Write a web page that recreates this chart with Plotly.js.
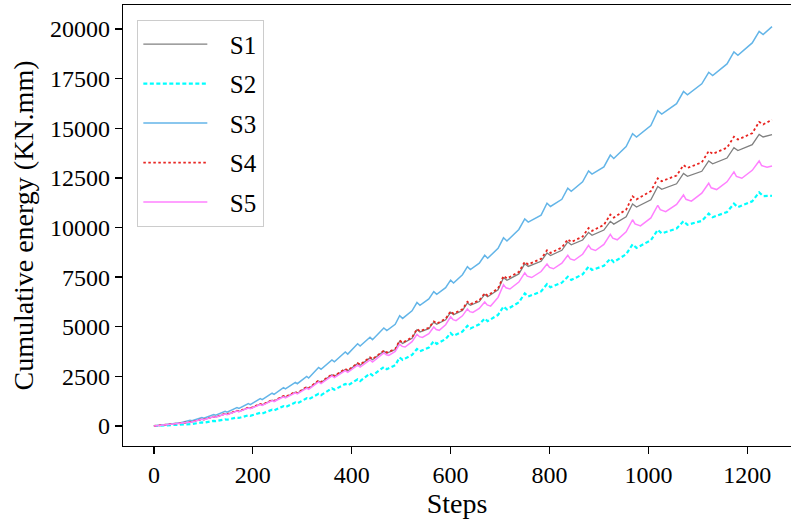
<!DOCTYPE html>
<html>
<head>
<meta charset="utf-8">
<script src="https://cdn.plot.ly/plotly-3.0.1.min.js"></script>
<style>html,body{margin:0;padding:0;background:#fff;}#chart{width:791px;height:520px;}</style>
</head>
<body>
<div id="chart"></div>
<script>
// Steps shared by S1-S4 (cusp, trough, knee points of each loading cycle)
const stepsA = [0,
26,30, 50,54, 73,77, 97,101, 121,125, 144,148, 168,172, 191,195, 215,219, 239,243, 262,266, 286,290, 309,313, 333,338, 360,365, 387,392, 412,417, 437,442,
465,471,488, 497,503,522, 532,538,556, 566,572,590, 600,606,624, 634,640,658, 669,675,696, 707,714,738, 750,757,783, 795,802,825, 837,844,867, 879,886,910, 923,930,955, 968,976,1005, 1019,1027,1057, 1071,1079,1108, 1122,1130,1159, 1173,1181,1210,
1224,1232, 1250];

// Steps for S5
const stepsS5 = [0,
26,30, 50,54, 73,77, 97,101, 121,125, 144,148, 168,172, 191,195, 215,219, 239,243, 262,266, 286,290, 309,313, 333,338, 360,365, 387,392, 412,417, 437,442,
465,470,475,488, 497,502,508,522, 532,537,543,556, 566,571,577,590, 600,605,611,624, 634,639,645,658, 669,674,681,696, 707,712,720,738, 750,755,764,783, 795,800,808,825, 837,842,850,867, 879,884,893,910, 923,928,937,955, 968,973,984,1005, 1019,1024,1035,1057, 1071,1076,1087,1108, 1122,1127,1138,1159, 1173,1178,1189,1210,
1224,1229,1240, 1250];

const S1 = [0,
80,70, 150,135, 220,205, 340,320, 470,445, 610,585, 760,730, 920,885, 1100,1060, 1300,1255, 1500,1450, 1700,1645, 1950,1890, 2260,2190, 2575,2500, 2850,2770, 3140,3060, 3430,3340,
3770,3670,3850, 4270,4160,4420, 4850,4740,4900, 5230,5120,5350, 5730,5610,5820, 6200,6080,6270, 6630,6510,6860, 7470,7340,7660, 8170,8040,8300, 8720,8590,8850, 9270,9130,9370, 9750,9610,9870, 10310,10170,10540, 11180,11030,11400, 12070,11920,12200, 12720,12580,12830, 13350,13210,13500, 14020,13880,14170,
14690,14560, 14680];

const S2 = [0,
30,25, 60,52, 110,98, 180,165, 260,242, 335,315, 430,405, 540,510, 665,630, 820,780, 1000,955, 1185,1135, 1400,1345, 1620,1555, 1900,1825, 2120,2040, 2350,2265, 2640,2545,
2970,2860,3060, 3450,3330,3580, 3880,3760,3950, 4270,4140,4380, 4680,4540,4760, 5050,4910,5120, 5420,5280,5600, 6020,5870,6230, 6680,6520,6780, 7150,6990,7220, 7520,7360,7640, 8030,7860,8070, 8430,8260,8650, 9150,8970,9360, 9880,9700,9950, 10320,10140,10330, 10700,10520,10780, 11200,11020,11320,
11770,11580, 11600];

const S3 = [0,
90,75, 180,160, 290,265, 420,390, 580,545, 740,700, 930,885, 1130,1080, 1380,1325, 1650,1590, 1930,1865, 2200,2130, 2500,2420, 2950,2860, 3330,3230, 3730,3620, 4140,4030, 4470,4350,
4940,4810,5120, 5560,5420,5800, 6220,6080,6400, 6770,6630,6970, 7350,7200,7620, 8030,7880,8200, 8600,8450,8950, 9480,9320,9900, 10430,10270,10620, 11220,11060,11420, 11980,11820,12300, 12850,12690,13050, 13650,13480,14080, 14730,14560,15140, 15880,15710,16240, 16850,16680,17240, 17820,17650,18240, 18850,18680,19300,
19880,19720, 20120];

const S4 = [0,
80,70, 150,135, 225,208, 345,325, 475,450, 620,593, 770,740, 930,895, 1110,1070, 1310,1265, 1515,1465, 1720,1665, 1970,1910, 2290,2220, 2600,2525, 2880,2800, 3170,3090, 3460,3370,
3800,3700,3880, 4310,4200,4460, 4890,4780,4950, 5270,5160,5400, 5780,5660,5880, 6260,6140,6330, 6690,6570,6930, 7560,7430,7760, 8270,8140,8420, 8850,8720,8990, 9410,9270,9540, 9970,9830,10130, 10650,10500,10900, 11570,11420,11830, 12480,12330,12620, 13140,13000,13280, 13850,13710,14020, 14570,14430,14750,
15320,15190, 15430];

const S5 = [0,
80,70, 148,133, 218,200, 335,315, 465,440, 600,572, 750,718, 905,868, 1080,1038, 1280,1232, 1470,1418, 1670,1612, 1910,1845, 2220,2140, 2520,2435, 2790,2700, 3060,2965, 3330,3225,
3680,3590,3560,3760, 4120,4010,3980,4250, 4620,4500,4460,4650, 4990,4860,4820,5100, 5500,5360,5310,5550, 5900,5760,5720,5920, 6250,6100,6040,6480, 7120,6960,6900,7250, 7720,7550,7480,7780, 8160,7990,7920,8200, 8600,8420,8350,8650, 9100,8920,8840,9150, 9650,9460,9380,9780, 10390,10180,10080,10480, 11120,10900,10800,11160, 11640,11420,11330,11730, 12230,12000,11910,12300, 12800,12570,12480,12880,
13350,13120,13040, 13100];

const seriesNames = ['S1', 'S2', 'S3', 'S4', 'S5'];
const xTickVals = [0, 200, 400, 600, 800, 1000, 1200];
const xTickText = ['0', '200', '400', '600', '800', '1000', '1200'];
const yTickVals = [0, 2500, 5000, 7500, 10000, 12500, 15000, 17500, 20000];
const yTickText = ['0', '2500', '5000', '7500', '10000', '12500', '15000', '17500', '20000'];

const FONT = 'Liberation Serif, Times New Roman, serif';
const PAD = '\u2002\u2009';

const styles = [
  {color: '#808080', width: 1.3},
  {color: '#00ffff', width: 2.2, dash: '4px,2.5px'},
  {color: '#63b5e8', width: 1.5},
  {color: '#e82420', width: 1.8, dash: '2.5px,2.5px'},
  {color: '#ff80ff', width: 1.5}
];
const xs = [stepsA, stepsA, stepsA, stepsA, stepsS5];
const ys = [S1, S2, S3, S4, S5];

const traces = seriesNames.map((n, i) => ({
  type: 'scatter', mode: 'lines',
  x: xs[i], y: ys[i],
  name: PAD + n, legendgroup: 'g' + i,
  line: styles[i]
}));

const layout = {
  width: 791, height: 520,
  margin: {l: 123, r: 0, t: 5, b: 74},
  paper_bgcolor: '#fff', plot_bgcolor: '#fff',
  font: {family: FONT, color: '#000', size: 24},
  showlegend: true,
  legend: {
    x: 0.021, y: 0.966, xanchor: 'left', yanchor: 'top',
    bgcolor: '#fff', bordercolor: '#cccccc', borderwidth: 1.3,
    font: {family: FONT, size: 25, color: '#000'},
    itemwidth: 64, tracegroupgap: 4
  },
  xaxis: {
    range: [-62.5, 1288.4],
    tickvals: xTickVals, ticktext: xTickText,
    ticks: 'outside', ticklen: 7, tickwidth: 1.3, tickcolor: '#000',
    showline: true, linecolor: '#000', linewidth: 1.3, mirror: true,
    showgrid: false, zeroline: false,
    tickfont: {family: FONT, size: 24, color: '#000'},
    title: {text: 'Steps', font: {family: FONT, size: 28, color: '#000'}, standoff: 4}
  },
  yaxis: {
    range: [-1008, 21209],
    tickvals: yTickVals, ticktext: yTickText,
    ticks: 'outside', ticklen: 7, tickwidth: 1.3, tickcolor: '#000',
    showline: true, linecolor: '#000', linewidth: 1.3, mirror: false,
    showgrid: false, zeroline: false,
    tickfont: {family: FONT, size: 24, color: '#000'},
    title: {text: 'Cumulative energy (KN.mm)', font: {family: FONT, size: 28, color: '#000'}, standoff: 8}
  }
};

Plotly.newPlot('chart', traces, layout, {displayModeBar: false, staticPlot: true});
</script>
</body>
</html>
